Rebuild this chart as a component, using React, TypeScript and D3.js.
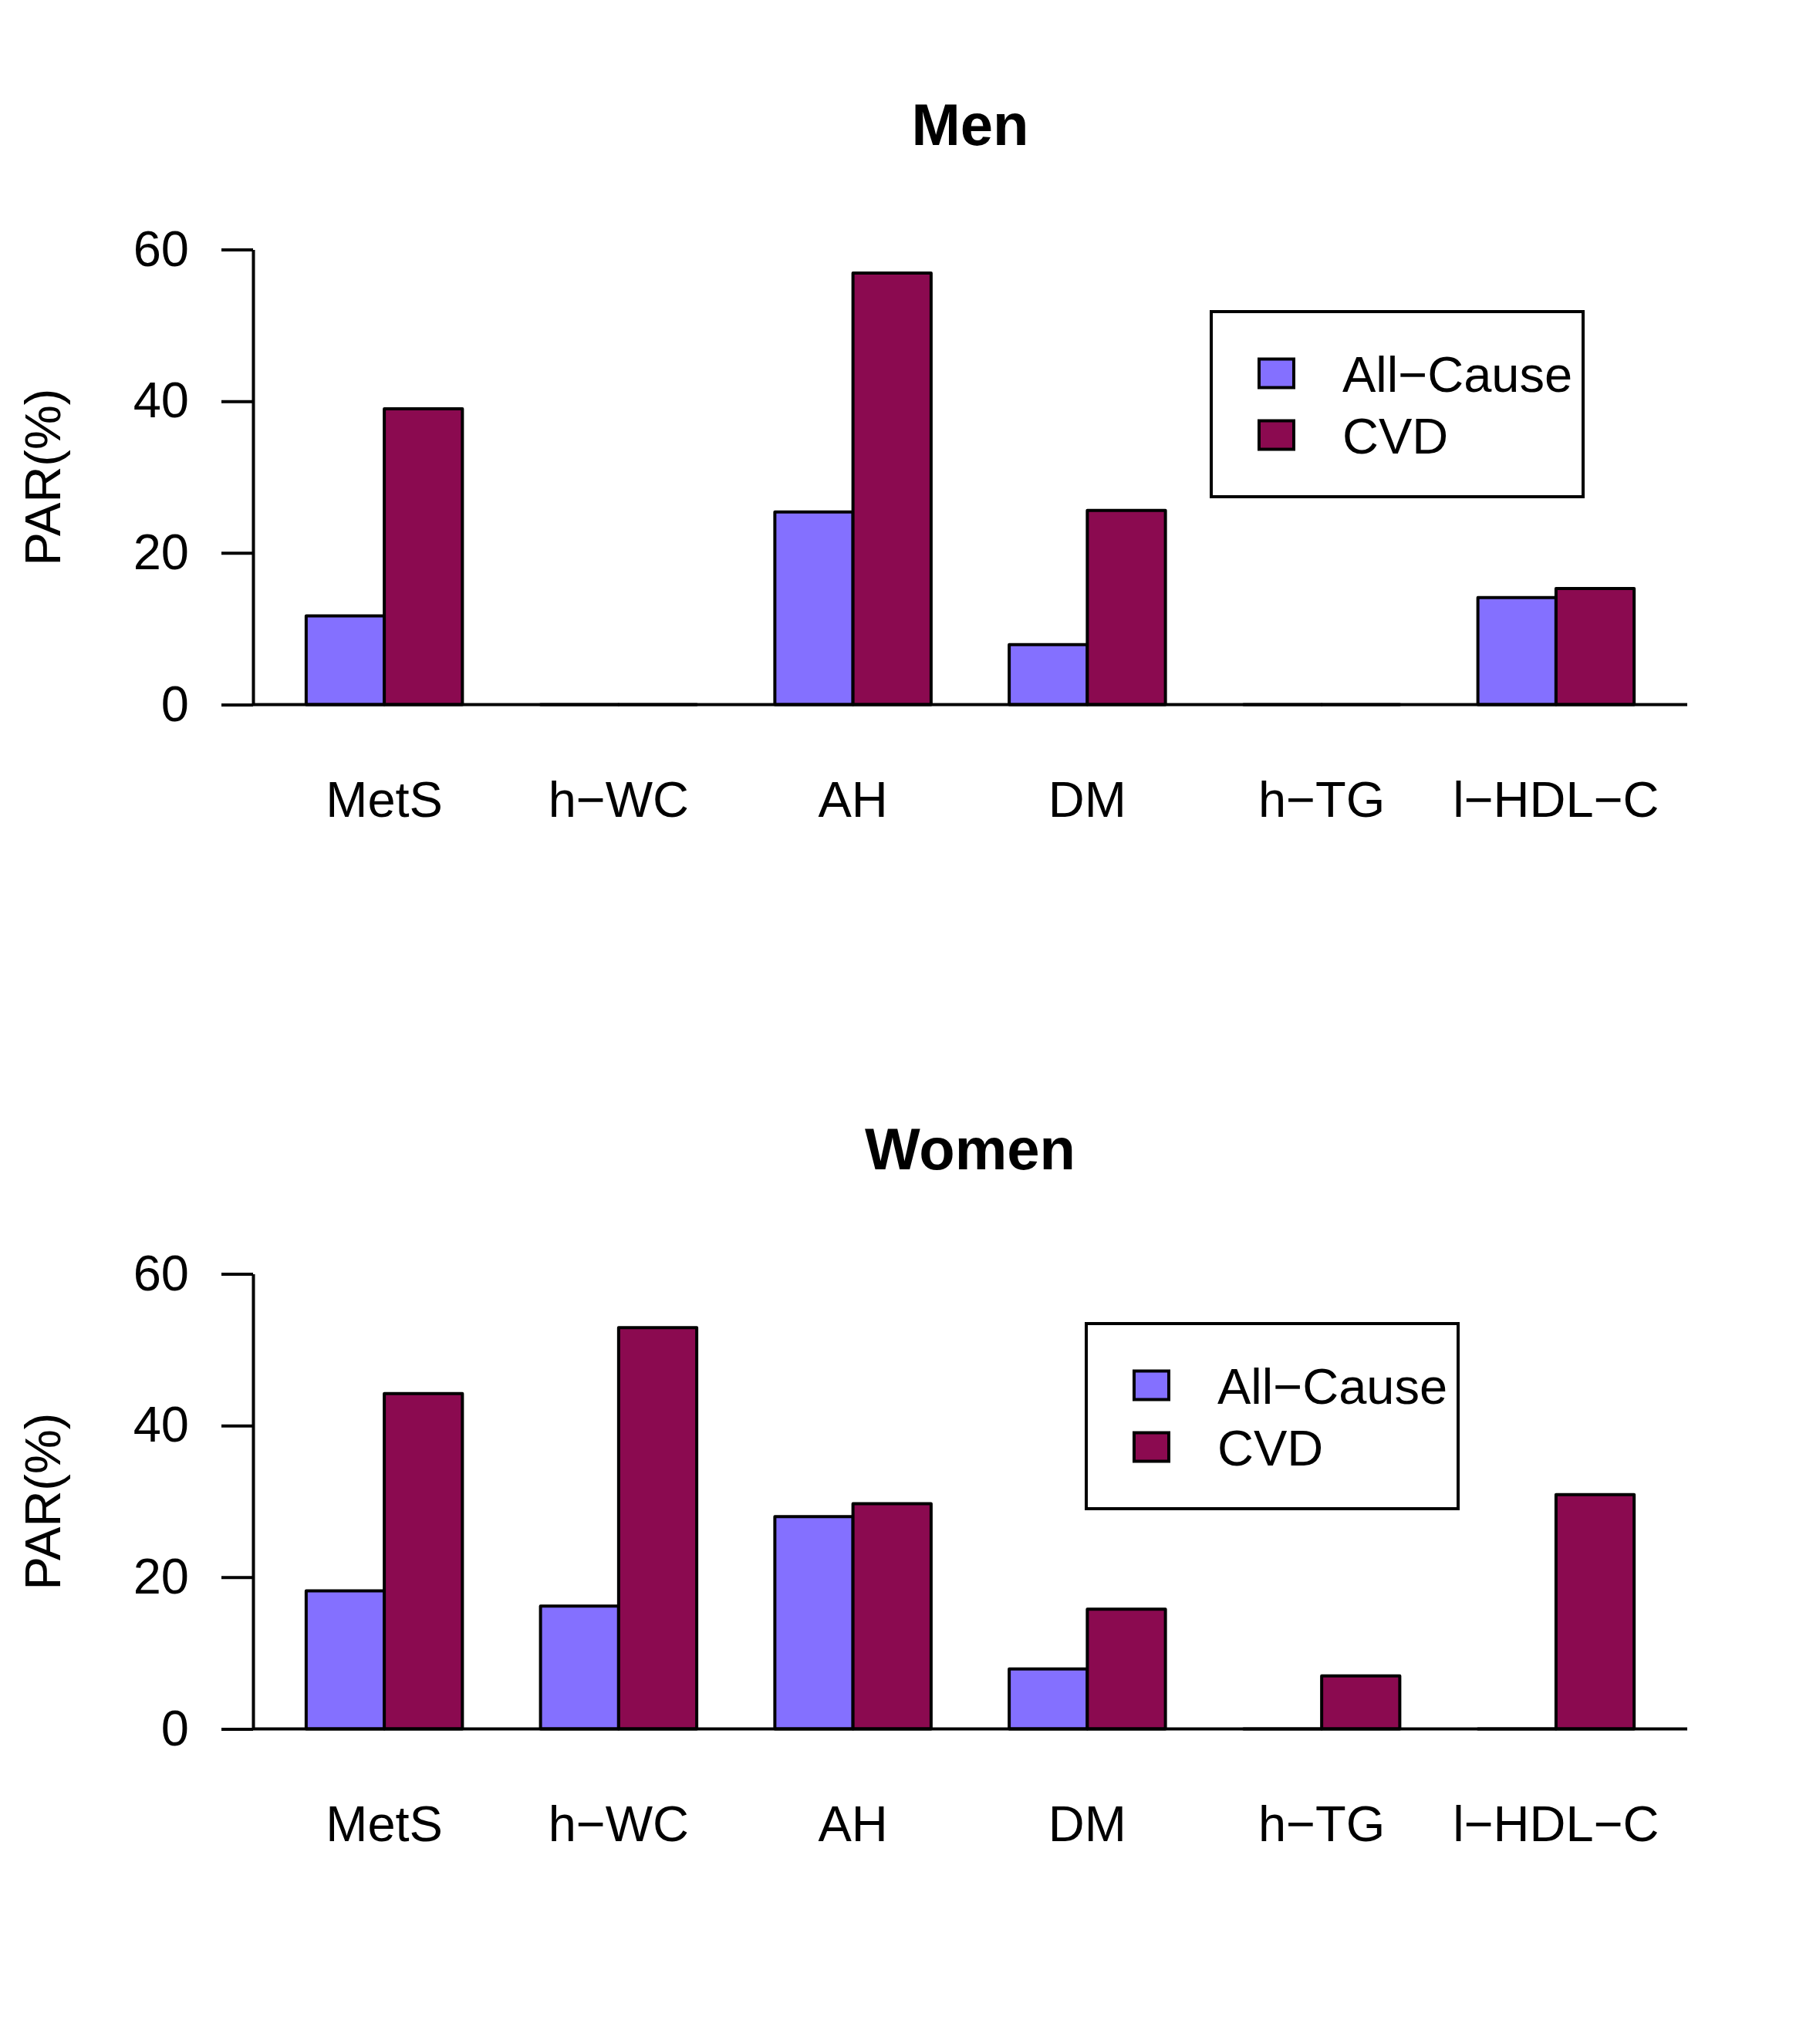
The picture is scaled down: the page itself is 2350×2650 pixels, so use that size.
import React, { useEffect, useRef } from "react";
import * as d3 from "d3";

// PAR(%) by risk factor, two panels
const categories = ["MetS", "h\u2212WC", "AH", "DM", "h\u2212TG", "l\u2212HDL\u2212C"];
const seriesNames = ["All\u2212Cause", "CVD"];
const seriesColors = ["#8470FF", "#8B0A50"];

const menAllCause = [11.7, 0, 25.4, 7.9, 0, 14.1];
const menCVD = [39.0, 0, 56.9, 25.6, 0, 15.3];
const womenAllCause = [18.2, 16.2, 28.0, 7.9, 0, 0];
const womenCVD = [44.2, 52.9, 29.7, 15.8, 7.0, 30.9];

const yTicks = [0, 20, 40, 60];

const panels = [
  { title: "Men", series: [menAllCause, menCVD], offset: 0, legend: [1570, 404] },
  { title: "Women", series: [womenAllCause, womenCVD], offset: 1328, legend: [1408, 1716] },
];

const W = 2350, H = 2650;
const FONT = "'Liberation Sans', Arial, Helvetica, sans-serif";

export default function App() {
  const svgRef = useRef<SVGSVGElement>(null);

  useEffect(() => {
    if (!svgRef.current) return;
    const svg = d3.select(svgRef.current);
    svg.selectAll("*").remove();

    // R barplot units: bars of width 1, one unit gap before each group
    const x = d3.scaleLinear().domain([0.32, 18.68]).range([328, 2187]);

    panels.forEach((p) => {
      const y = d3.scaleLinear().domain([0, 60]).range([913.5 + p.offset, 323.5 + p.offset]);
      const g = svg.append("g");

      // Title
      g.append("text")
        .attr("x", (x(0.32) + x(18.68)) / 2)
        .attr("y", 188 + p.offset)
        .attr("text-anchor", "middle")
        .attr("font-family", FONT)
        .attr("font-weight", "bold")
        .attr("font-size", 76)
        .text(p.title);

      // Bars as closed paths so zero-height bars still show their outline
      p.series.forEach((vals, s) => {
        g.selectAll(`path.s${s}`)
          .data(vals)
          .enter()
          .append("path")
          .attr("class", `s${s}`)
          .attr("d", (d, i) => {
            const x0 = x(1 + i * 3 + s), x1 = x(2 + i * 3 + s);
            const path = d3.path();
            path.moveTo(x0, y(0));
            path.lineTo(x0, y(d));
            path.lineTo(x1, y(d));
            path.lineTo(x1, y(0));
            path.closePath();
            return path.toString();
          })
          .attr("fill", seriesColors[s])
          .attr("stroke", "#000")
          .attr("stroke-width", 4)
          .attr("stroke-linejoin", "round");
      });

      // Zero line across the plot region
      g.append("line")
        .attr("x1", x(0.32))
        .attr("x2", x(18.68))
        .attr("y1", y(0))
        .attr("y2", y(0))
        .attr("stroke", "#000")
        .attr("stroke-width", 4);

      // Y axis
      const ax = g.append("g")
        .attr("transform", `translate(${x(0.32)},0)`)
        .call(d3.axisLeft(y).tickValues(yTicks).tickSize(41).tickSizeOuter(0).tickPadding(42));
      ax.selectAll("path, line").attr("stroke", "#000").attr("stroke-width", 4);
      ax.selectAll("text")
        .attr("font-family", FONT)
        .attr("font-size", 65)
        .attr("fill", "#000");

      // Y title
      g.append("text")
        .attr("transform", `translate(55,${y(30)}) rotate(-90)`)
        .attr("text-anchor", "middle")
        .attr("dy", "0.35em")
        .attr("font-family", FONT)
        .attr("font-size", 65)
        .text("PAR(%)");

      // Category labels
      g.selectAll("text.cat")
        .data(categories)
        .enter()
        .append("text")
        .attr("class", "cat")
        .attr("x", (_d, i) => x(2 + i * 3))
        .attr("y", y(0) + 145.5)
        .attr("text-anchor", "middle")
        .attr("font-family", FONT)
        .attr("font-size", 65)
        .text((d) => d);

      // Legend
      const [lx, ly] = p.legend;
      const lg = g.append("g").attr("transform", `translate(${lx},${ly})`);
      lg.append("rect")
        .attr("width", 482)
        .attr("height", 240)
        .attr("fill", "#fff")
        .attr("stroke", "#000")
        .attr("stroke-width", 4);
      seriesNames.forEach((name, s) => {
        const cy = 80 + s * 80;
        lg.append("rect")
          .attr("x", 62)
          .attr("y", cy - 18.5)
          .attr("width", 45)
          .attr("height", 37)
          .attr("fill", seriesColors[s])
          .attr("stroke", "#000")
          .attr("stroke-width", 4);
        lg.append("text")
          .attr("x", 170)
          .attr("y", cy + 24)
          .attr("font-family", FONT)
          .attr("font-size", 65)
          .text(name);
      });
    });
  }, []);

  return (
    <div style={{ position: "absolute", left: 0, top: 0 }}>
      <svg ref={svgRef} width={W} height={H} style={{ display: "block", background: "#fff" }} />
    </div>
  );
}
